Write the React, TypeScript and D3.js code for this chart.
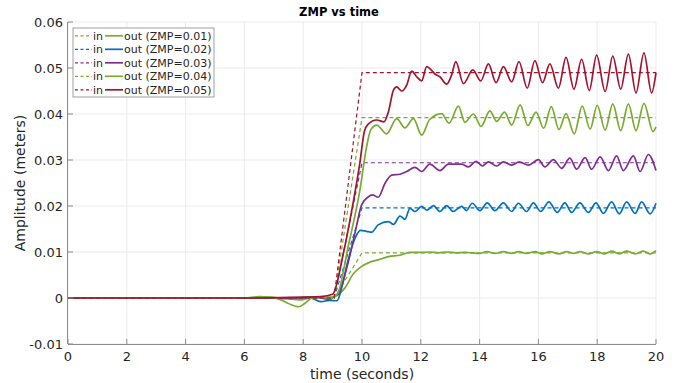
import React, { useEffect, useRef } from 'react';
import * as d3 from 'd3';

const W = 678;
const H = 383;

// tick values / labels
const X_TICKS = [0, 2, 4, 6, 8, 10, 12, 14, 16, 18, 20];
const Y_TICKS = [-0.01, 0, 0.01, 0.02, 0.03, 0.04, 0.05, 0.06];
const Y_TICK_LABELS = ['-0.01', '0', '0.01', '0.02', '0.03', '0.04', '0.05', '0.06'];

const ZMP_LABELS = ['0.01', '0.02', '0.03', '0.04', '0.05'];
const COLORS = ['#77AC30', '#0072BD', '#7E2F8E', '#77AC30', '#A2142F'];

// reference (input) trajectories: flat, linear ramp, flat
const IN_LEVELS = [0.0098, 0.0196, 0.0294, 0.0392, 0.049];
const IN_RAMP_START = 9.05;
const IN_RAMP_END = 10;

// measured outputs, [time, amplitude]
const OUT_001: [number, number][] = [
  [0, 0], [6.2, 0], [6.6, 0.0002], [7.0, 0.0001], [7.5, -0.0002], [7.9, -0.0004], [8.3, 0.0001],
  [8.7, 0.0002], [9.0, 0.0002], [9.1, 0.0004], [9.42, 0.0022], [9.7, 0.0052], [9.93, 0.0066],
  [10.27, 0.0078], [10.55, 0.0083], [10.9, 0.009], [11.29, 0.0093], [11.63, 0.0099], [12.0, 0.0099],
  [12.3, 0.01], [12.6, 0.0098], [12.9, 0.01], [13.2, 0.0098], [13.5, 0.0099], [13.75, 0.0098],
  [14.0, 0.0097], [14.24, 0.0101], [14.52, 0.0097], [14.81, 0.0101], [15.09, 0.0097], [15.32, 0.0101],
  [15.6, 0.0097], [15.88, 0.0101], [16.12, 0.0096], [16.39, 0.0101], [16.7, 0.0096], [16.96, 0.0101],
  [17.2, 0.0097], [17.41, 0.0101], [17.7, 0.0096], [17.98, 0.0101], [18.25, 0.0096], [18.49, 0.0102],
  [18.75, 0.0096], [19.0, 0.0102], [19.3, 0.0096], [19.57, 0.0102], [19.8, 0.0096], [20, 0.0103],
];

const OUT_002: [number, number][] = [
  [0, 0], [6.3, 0], [6.7, 0.0001], [7.2, -0.0001], [7.7, 0], [8.2, 0.0001], [8.6, -0.0008],
  [8.9, -0.0005], [9.15, -0.0006], [9.3, 0.002], [9.53, 0.0083], [9.8, 0.0135], [9.95, 0.0147],
  [10.15, 0.0145], [10.33, 0.0143], [10.55, 0.0159], [10.9, 0.0166], [11.07, 0.016], [11.29, 0.0178],
  [11.46, 0.0171], [11.63, 0.0195], [11.8, 0.0188], [12.03, 0.0199], [12.2, 0.0191], [12.43, 0.0201],
  [12.65, 0.0188], [12.88, 0.0201], [13.1, 0.0188], [13.39, 0.0199], [13.55, 0.019], [13.75, 0.0206],
  [14.01, 0.019], [14.26, 0.0207], [14.52, 0.019], [14.81, 0.0207], [15.09, 0.0188], [15.32, 0.0206],
  [15.6, 0.0188], [15.83, 0.0207], [16.08, 0.0188], [16.36, 0.0209], [16.64, 0.0186], [16.9, 0.0207],
  [17.13, 0.0186], [17.41, 0.0207], [17.7, 0.0186], [17.96, 0.0207], [18.21, 0.0184], [18.49, 0.0209],
  [18.75, 0.0183], [19.0, 0.0209], [19.29, 0.0184], [19.51, 0.0209], [19.8, 0.0183], [20, 0.0206],
];

const OUT_003: [number, number][] = [
  [0, 0], [6.5, 0], [7.0, 0.0001], [7.6, -0.0001], [8.2, 0.0002], [8.6, 0], [8.9, -0.0003],
  [9.1, 0.0005], [9.2, 0.001], [9.5, 0.007], [9.76, 0.0141], [9.99, 0.0203], [10.2, 0.0219],
  [10.36, 0.0224], [10.55, 0.0219], [10.78, 0.0249], [11.01, 0.0267], [11.29, 0.0269], [11.52, 0.0275],
  [11.8, 0.0284], [12.03, 0.0275], [12.31, 0.0291], [12.65, 0.0277], [12.94, 0.0291], [13.39, 0.0291],
  [13.62, 0.0285], [13.88, 0.0297], [14.1, 0.0287], [14.3, 0.0296], [14.58, 0.0287], [14.81, 0.0296],
  [15.09, 0.0289], [15.35, 0.0296], [15.66, 0.0289], [16.0, 0.0301], [16.22, 0.0285], [16.51, 0.0301],
  [16.79, 0.0282], [17.07, 0.0304], [17.3, 0.028], [17.59, 0.0305], [17.81, 0.028], [18.1, 0.0307],
  [18.38, 0.0277], [18.66, 0.0309], [18.89, 0.0277], [19.23, 0.0309], [19.46, 0.0275], [19.74, 0.0312],
  [20, 0.0277],
];

const OUT_004: [number, number][] = [
  [0, 0], [6.0, 0], [6.5, 0.0003], [6.9, 0.0002], [7.2, -0.0003], [7.5, -0.0012], [7.85, -0.0019],
  [8.05, -0.0012], [8.3, 0], [8.6, 0.0002], [8.9, -0.0001], [9.05, 0.0002], [9.19, 0.0012],
  [9.53, 0.0112], [9.93, 0.0235], [10.16, 0.033], [10.3, 0.0366], [10.5, 0.0376], [10.84, 0.0357],
  [11.18, 0.039], [11.46, 0.037], [11.75, 0.039], [12.03, 0.0354], [12.3, 0.0388], [12.71, 0.0401],
  [12.96, 0.038], [13.28, 0.0417], [13.5, 0.0382], [13.79, 0.04], [14.05, 0.0373], [14.35, 0.0407],
  [14.58, 0.0384], [14.85, 0.0404], [15.09, 0.0376], [15.38, 0.042], [15.64, 0.0375], [15.92, 0.0404],
  [16.18, 0.0369], [16.44, 0.0416], [16.7, 0.0366], [16.94, 0.0401], [17.22, 0.0357], [17.49, 0.0417],
  [17.76, 0.0367], [18.0, 0.0419], [18.27, 0.0365], [18.53, 0.0422], [18.8, 0.0364], [19.06, 0.0422],
  [19.32, 0.0364], [19.59, 0.0423], [19.9, 0.0362], [20, 0.0372],
];

const OUT_005: [number, number][] = [
  [0, 0], [6.5, 0], [7.2, 0.0001], [8.0, 0.0002], [8.6, 0.0003], [9.0, 0.0008], [9.36, 0.0095],
  [9.65, 0.019], [9.93, 0.0295], [10.08, 0.0362], [10.21, 0.0378], [10.5, 0.0387], [10.75, 0.0383],
  [10.9, 0.0405], [11.07, 0.0452], [11.18, 0.0459], [11.35, 0.045], [11.52, 0.0463], [11.69, 0.0493],
  [11.86, 0.0481], [12.03, 0.0472], [12.2, 0.0503], [12.35, 0.0496], [12.48, 0.0487], [12.65, 0.0481],
  [12.88, 0.0465], [13.05, 0.0485], [13.19, 0.0514], [13.45, 0.0466], [13.77, 0.0496], [14.04, 0.0472],
  [14.3, 0.0509], [14.56, 0.0468], [14.81, 0.0503], [15.09, 0.047], [15.34, 0.0514], [15.62, 0.0456],
  [15.88, 0.0516], [16.14, 0.0468], [16.39, 0.0509], [16.68, 0.0456], [16.94, 0.0523], [17.21, 0.0454],
  [17.47, 0.0519], [17.73, 0.0451], [17.98, 0.0528], [18.27, 0.0449], [18.53, 0.0526], [18.8, 0.0454],
  [19.06, 0.053], [19.32, 0.0446], [19.59, 0.0533], [19.85, 0.0446], [20, 0.049],
];

const OUTPUTS = [OUT_001, OUT_002, OUT_003, OUT_004, OUT_005];

const FONT = 'DejaVu Sans, sans-serif';

const App = () => {
  const svgRef = useRef<SVGSVGElement>(null);

  useEffect(() => {
    const svg = d3.select(svgRef.current);
    svg.selectAll('*').remove();

    const x = d3.scaleLinear().domain([0, 20]).range([68, 656]);
    const y = d3.scaleLinear().domain([-0.01, 0.06]).range([344, 22]);

    svg.append('rect').attr('width', W).attr('height', H).attr('fill', '#fff');

    // grid
    const grid = svg.append('g');
    grid.selectAll('line.gx')
      .data(X_TICKS)
      .join('line')
      .attr('x1', (d) => x(d)).attr('x2', (d) => x(d))
      .attr('y1', y(-0.01)).attr('y2', y(0.06))
      .attr('stroke', '#ebebeb').attr('stroke-width', 1);
    grid.selectAll('line.gy')
      .data(Y_TICKS)
      .join('line')
      .attr('x1', x(0)).attr('x2', x(20))
      .attr('y1', (d) => y(d)).attr('y2', (d) => y(d))
      .attr('stroke', '#ebebeb').attr('stroke-width', 1);

    // series
    const inLine = d3.line<[number, number]>().x((d) => x(d[0])).y((d) => y(d[1]));
    const outLine = d3.line<[number, number]>()
      .x((d) => x(d[0])).y((d) => y(d[1]))
      .curve(d3.curveMonotoneX);

    const plot = svg.append('g');
    IN_LEVELS.forEach((lvl, i) => {
      const pts: [number, number][] = [[0, 0], [IN_RAMP_START, 0], [IN_RAMP_END, lvl], [20, lvl]];
      plot.append('path')
        .attr('d', inLine(pts))
        .attr('fill', 'none')
        .attr('stroke', COLORS[i])
        .attr('stroke-width', 1.2)
        .attr('stroke-dasharray', '4,3');
      plot.append('path')
        .attr('d', outLine(OUTPUTS[i]))
        .attr('fill', 'none')
        .attr('stroke', COLORS[i])
        .attr('stroke-width', 1.7)
        .attr('stroke-linejoin', 'round');
    });

    // axes
    const axisColor = '#8c8c8c';
    const textColor = '#262626';
    svg.append('line')
      .attr('x1', x(0)).attr('x2', x(20)).attr('y1', y(-0.01) + 0.5).attr('y2', y(-0.01) + 0.5)
      .attr('stroke', axisColor);
    svg.append('line')
      .attr('x1', x(0) - 0.5).attr('x2', x(0) - 0.5).attr('y1', y(-0.01)).attr('y2', y(0.06))
      .attr('stroke', axisColor);

    svg.append('g').selectAll('line')
      .data(X_TICKS)
      .join('line')
      .attr('x1', (d) => x(d)).attr('x2', (d) => x(d))
      .attr('y1', y(-0.01)).attr('y2', y(-0.01) - 5)
      .attr('stroke', axisColor);
    svg.append('g').selectAll('line')
      .data(Y_TICKS)
      .join('line')
      .attr('x1', x(0)).attr('x2', x(0) + 5)
      .attr('y1', (d) => y(d)).attr('y2', (d) => y(d))
      .attr('stroke', axisColor);

    svg.append('g').selectAll('text')
      .data(X_TICKS)
      .join('text')
      .attr('x', (d) => x(d))
      .attr('y', 361)
      .attr('text-anchor', 'middle')
      .attr('font-family', FONT).attr('font-size', 13).attr('fill', textColor)
      .text((d) => String(d));
    svg.append('g').selectAll('text')
      .data(Y_TICKS)
      .join('text')
      .attr('x', 63)
      .attr('y', (d) => y(d) + 4.5)
      .attr('text-anchor', 'end')
      .attr('font-family', FONT).attr('font-size', 13).attr('fill', textColor)
      .text((d, i) => Y_TICK_LABELS[i]);

    svg.append('text')
      .attr('x', (x(0) + x(20)) / 2).attr('y', 379)
      .attr('text-anchor', 'middle')
      .attr('font-family', FONT).attr('font-size', 14).attr('fill', textColor)
      .text('time (seconds)');
    svg.append('text')
      .attr('transform', `translate(25,${(y(-0.01) + y(0.06)) / 2}) rotate(-90)`)
      .attr('text-anchor', 'middle')
      .attr('font-family', FONT).attr('font-size', 14).attr('fill', textColor)
      .text('Amplitude (meters)');
    svg.append('text')
      .attr('x', 339).attr('y', 16)
      .attr('text-anchor', 'middle')
      .attr('font-family', FONT).attr('font-size', 11.5).attr('font-weight', 'bold')
      .attr('fill', '#000')
      .text('ZMP vs time');

    // legend
    const leg = svg.append('g');
    leg.append('rect')
      .attr('x', 73).attr('y', 28).attr('width', 141).attr('height', 69)
      .attr('fill', '#fff').attr('stroke', '#a0a0a0').attr('stroke-width', 1);
    ZMP_LABELS.forEach((lab, i) => {
      const cy = 35.8 + i * 13.5;
      leg.append('line')
        .attr('x1', 75).attr('x2', 92).attr('y1', cy).attr('y2', cy)
        .attr('stroke', COLORS[i]).attr('stroke-width', 1.2).attr('stroke-dasharray', '3,2.5');
      leg.append('text')
        .attr('x', 93).attr('y', cy + 4)
        .attr('font-family', FONT).attr('font-size', 11).attr('fill', textColor)
        .text('in');
      leg.append('line')
        .attr('x1', 105).attr('x2', 123).attr('y1', cy).attr('y2', cy)
        .attr('stroke', COLORS[i]).attr('stroke-width', 1.7);
      leg.append('text')
        .attr('x', 124).attr('y', cy + 4)
        .attr('font-family', FONT).attr('font-size', 11).attr('fill', textColor)
        .text(`out (ZMP=${lab})`);
    });
  }, []);

  return (
    <svg
      ref={svgRef}
      width={W}
      height={H}
      style={{ position: 'absolute', left: 0, top: 0 }}
    />
  );
};

export default App;
